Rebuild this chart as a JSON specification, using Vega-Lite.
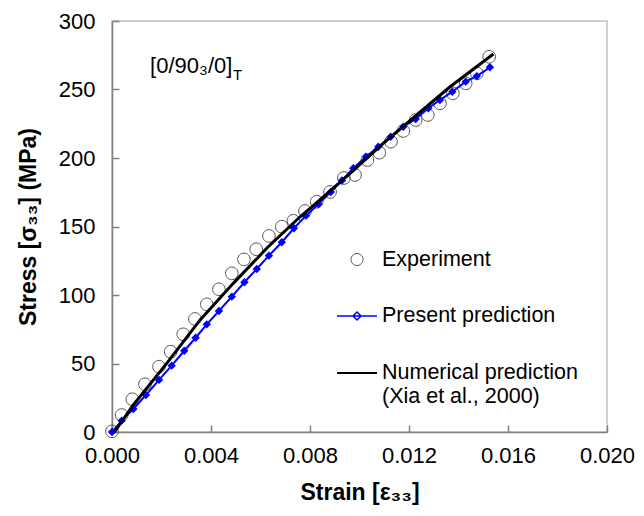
{
  "$schema": "https://vega.github.io/schema/vega-lite/v6.json",
  "autosize": {"type": "none"},
  "padding": {"left": 112, "top": 21, "right": 37, "bottom": 84},
  "width": 495,
  "height": 411,
  "config": {
    "font": "Liberation Sans",
    "view": {"stroke": "#c0c0c0", "strokeWidth": 1.5},
    "axis": {"grid": false, "domainColor": "#808080", "domainWidth": 1.5, "tickColor": "#808080", "tickWidth": 1.5, "labelFont": "Liberation Sans", "labelFontSize": 22, "labelColor": "#000", "labelFlush": false, "titleFont": "Liberation Sans", "titleFontSize": 23, "titleFontWeight": "bold", "titleColor": "#000"},
    "legend": {"orient": "none", "legendX": 224, "legendY": 218, "padding": 0, "labelFont": "Liberation Sans", "labelFontSize": 21.5, "labelColor": "#000", "labelOffset": 4, "labelLimit": 0, "rowPadding": 25, "symbolSize": 1600, "symbolOpacity": 1}
  },
  "datasets": {
    "main": [
      {"series": "Experiment", "strain": 0.0, "stress": 0.5},
      {"series": "Experiment", "strain": 0.00039, "stress": 12.4},
      {"series": "Experiment", "strain": 0.00082, "stress": 23.9},
      {"series": "Experiment", "strain": 0.00133, "stress": 34.8},
      {"series": "Experiment", "strain": 0.0019, "stress": 47.7},
      {"series": "Experiment", "strain": 0.00237, "stress": 58.6},
      {"series": "Experiment", "strain": 0.00288, "stress": 71.3},
      {"series": "Experiment", "strain": 0.00335, "stress": 82.5},
      {"series": "Experiment", "strain": 0.00383, "stress": 93.2},
      {"series": "Experiment", "strain": 0.00432, "stress": 104.2},
      {"series": "Experiment", "strain": 0.00484, "stress": 115.8},
      {"series": "Experiment", "strain": 0.00533, "stress": 126.0},
      {"series": "Experiment", "strain": 0.00583, "stress": 133.4},
      {"series": "Experiment", "strain": 0.00634, "stress": 143.1},
      {"series": "Experiment", "strain": 0.00686, "stress": 149.9},
      {"series": "Experiment", "strain": 0.00733, "stress": 154.2},
      {"series": "Experiment", "strain": 0.0078, "stress": 161.3},
      {"series": "Experiment", "strain": 0.00827, "stress": 168.1},
      {"series": "Experiment", "strain": 0.00881, "stress": 175.2},
      {"series": "Experiment", "strain": 0.00937, "stress": 185.4},
      {"series": "Experiment", "strain": 0.00982, "stress": 187.6},
      {"series": "Experiment", "strain": 0.01032, "stress": 198.5},
      {"series": "Experiment", "strain": 0.0108, "stress": 203.9},
      {"series": "Experiment", "strain": 0.01127, "stress": 211.9},
      {"series": "Experiment", "strain": 0.01177, "stress": 219.7},
      {"series": "Experiment", "strain": 0.01227, "stress": 227.7},
      {"series": "Experiment", "strain": 0.01276, "stress": 231.4},
      {"series": "Experiment", "strain": 0.01325, "stress": 239.9},
      {"series": "Experiment", "strain": 0.01377, "stress": 247.2},
      {"series": "Experiment", "strain": 0.01429, "stress": 254.5},
      {"series": "Experiment", "strain": 0.01474, "stress": 261.8},
      {"series": "Experiment", "strain": 0.01524, "stress": 273.9},
      {"series": "Present prediction", "strain": 0.0, "stress": 0.0},
      {"series": "Present prediction", "strain": 0.00039, "stress": 8.3},
      {"series": "Present prediction", "strain": 0.00086, "stress": 16.8},
      {"series": "Present prediction", "strain": 0.00137, "stress": 27.0},
      {"series": "Present prediction", "strain": 0.0019, "stress": 38.0},
      {"series": "Present prediction", "strain": 0.00241, "stress": 48.4},
      {"series": "Present prediction", "strain": 0.00292, "stress": 59.3},
      {"series": "Present prediction", "strain": 0.00338, "stress": 68.8},
      {"series": "Present prediction", "strain": 0.00383, "stress": 78.6},
      {"series": "Present prediction", "strain": 0.00432, "stress": 88.3},
      {"series": "Present prediction", "strain": 0.00484, "stress": 98.8},
      {"series": "Present prediction", "strain": 0.00535, "stress": 109.3},
      {"series": "Present prediction", "strain": 0.00585, "stress": 119.0},
      {"series": "Present prediction", "strain": 0.00634, "stress": 128.7},
      {"series": "Present prediction", "strain": 0.00686, "stress": 138.5},
      {"series": "Present prediction", "strain": 0.00735, "stress": 148.7},
      {"series": "Present prediction", "strain": 0.00784, "stress": 157.9},
      {"series": "Present prediction", "strain": 0.00834, "stress": 166.4},
      {"series": "Present prediction", "strain": 0.00884, "stress": 175.2},
      {"series": "Present prediction", "strain": 0.00929, "stress": 183.6},
      {"series": "Present prediction", "strain": 0.00975, "stress": 192.5},
      {"series": "Present prediction", "strain": 0.01026, "stress": 200.9},
      {"series": "Present prediction", "strain": 0.01076, "stress": 208.2},
      {"series": "Present prediction", "strain": 0.01126, "stress": 215.5},
      {"series": "Present prediction", "strain": 0.01177, "stress": 222.8},
      {"series": "Present prediction", "strain": 0.01227, "stress": 228.5},
      {"series": "Present prediction", "strain": 0.01278, "stress": 236.3},
      {"series": "Present prediction", "strain": 0.01325, "stress": 242.3},
      {"series": "Present prediction", "strain": 0.01375, "stress": 248.4},
      {"series": "Present prediction", "strain": 0.01429, "stress": 255.7},
      {"series": "Present prediction", "strain": 0.01474, "stress": 259.8},
      {"series": "Present prediction", "strain": 0.01527, "stress": 266.2},
      {"series": "Numerical prediction", "strain": 0.0001, "stress": 0.0},
      {"series": "Numerical prediction", "strain": 0.00086, "stress": 19.7},
      {"series": "Numerical prediction", "strain": 0.00221, "stress": 50.1},
      {"series": "Numerical prediction", "strain": 0.00356, "stress": 81.8},
      {"series": "Numerical prediction", "strain": 0.0049, "stress": 108.5},
      {"series": "Numerical prediction", "strain": 0.00625, "stress": 134.1},
      {"series": "Numerical prediction", "strain": 0.0076, "stress": 157.1},
      {"series": "Numerical prediction", "strain": 0.00832, "stress": 168.1},
      {"series": "Numerical prediction", "strain": 0.00962, "stress": 188.8},
      {"series": "Numerical prediction", "strain": 0.01096, "stress": 210.7},
      {"series": "Numerical prediction", "strain": 0.01231, "stress": 231.4},
      {"series": "Numerical prediction", "strain": 0.01366, "stress": 252.0},
      {"series": "Numerical prediction", "strain": 0.01541, "stress": 275.9}
    ],
    "note": [{"strain": 0.00154, "stress": 267, "label": "[0/90₃/0]"}]
  },
  "data": {"name": "main"},
  "encoding": {
    "x": {"field": "strain", "type": "quantitative", "title": "Strain [ε₃₃]",
      "scale": {"domain": [0, 0.02], "nice": false, "zero": false},
      "axis": {"values": [0, 0.004, 0.008, 0.012, 0.016, 0.02], "format": ".3f", "tickSize": -7, "labelPadding": 20, "titlePadding": 15}},
    "y": {"field": "stress", "type": "quantitative", "title": "Stress [σ₃₃] (MPa)",
      "scale": {"domain": [0, 300], "nice": false},
      "axis": {"values": [0, 50, 100, 150, 200, 250, 300], "tickSize": -7, "labelPadding": 24, "titlePadding": 18}}
  },
  "layer": [
    {
      "transform": [{"filter": "datum.series === 'Experiment'"}],
      "mark": {"type": "point", "filled": false, "size": 1764, "opacity": 1},
      "encoding": {
        "color": {"field": "series", "type": "nominal",
          "scale": {"domain": ["Experiment", "Present prediction", "Numerical prediction"], "range": ["#505050", "#0000ff", "#000000"]},
          "legend": {"title": null, "labelExpr": "datum.label === 'Numerical prediction' ? ['Numerical prediction', '(Xia et al., 2000)'] : datum.label"}},
        "shape": {"field": "series", "type": "nominal",
          "scale": {"domain": ["Experiment", "Present prediction", "Numerical prediction"], "range": ["M-0.3,0A0.3,0.3 0 1,1 0.3,0A0.3,0.3 0 1,1 -0.3,0Z", "M-1,0L1,0M0,-0.2L0.2,0L0,0.2L-0.2,0Z", "M-1,0L1,0"]},
          "legend": {"title": null, "labelExpr": "datum.label === 'Numerical prediction' ? ['Numerical prediction', '(Xia et al., 2000)'] : datum.label"}},
        "strokeWidth": {"field": "series", "type": "nominal",
          "scale": {"domain": ["Experiment", "Present prediction", "Numerical prediction"], "range": [1, 2, 3]},
          "legend": {"title": null, "labelExpr": "datum.label === 'Numerical prediction' ? ['Numerical prediction', '(Xia et al., 2000)'] : datum.label"}}
      }
    },
    {
      "transform": [{"filter": "datum.series === 'Present prediction'"}],
      "mark": {"type": "line", "strokeWidth": 2, "color": "#0000ff"},
      "encoding": {}
    },
    {
      "transform": [{"filter": "datum.series === 'Present prediction'"}],
      "mark": {"type": "point", "shape": "diamond", "size": 70, "filled": true, "color": "#0000ff", "opacity": 1},
      "encoding": {}
    },
    {
      "transform": [{"filter": "datum.series === 'Numerical prediction'"}],
      "mark": {"type": "line", "strokeWidth": 3, "color": "#000000"},
      "encoding": {}
    },
    {
      "data": {"name": "note"},
      "mark": {"type": "text", "align": "left", "baseline": "middle", "fontSize": 22, "font": "Liberation Sans", "color": "#000"},
      "encoding": {"text": {"field": "label"}}
    },
    {
      "data": {"name": "note"},
      "mark": {"type": "text", "align": "left", "baseline": "middle", "fontSize": 15, "font": "Liberation Sans", "color": "#000", "dx": 83, "dy": 9, "text": "T"},
      "encoding": {}
    }
  ]
}
